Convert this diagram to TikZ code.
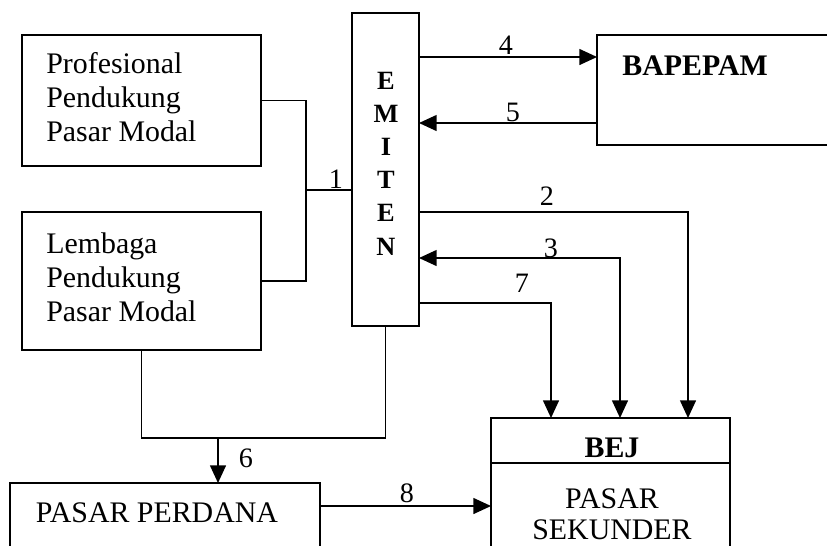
\documentclass[tikz,border=0pt]{standalone}
\usepackage{fontspec}
\setmainfont{Liberation Serif}
\usetikzlibrary{arrows.meta}

\begin{document}
\begin{tikzpicture}[x=0.02cm,y=-0.02cm,
        box/.style={draw=black, line width=0.9pt, inner sep=0pt, outer sep=0pt},
        txt/.style={font=\fontsize{17}{19.3}\selectfont, inner sep=0pt, align=left},
        num/.style={font=\fontsize{16}{18}\selectfont, inner sep=0pt},
        line/.style={line width=0.9pt},
        arr/.style={line width=0.9pt, -{Triangle[length=10pt,width=9pt]}},
        darr/.style={line width=0.9pt, {Triangle[length=10pt,width=9pt]}-{Triangle[length=10pt,width=9pt]}}]

        \path[use as bounding box, fill=white] (0,0) rectangle (827,545);

        % boxes
        \node (prof_box)[box, minimum width=4.78cm, minimum height=2.62cm] at (141.5,100.5) {};
        \node (lemb_box)[box, minimum width=4.78cm, minimum height=2.76cm] at (141.5,281) {};
        \node (emiten_box)[box, minimum width=1.34cm, minimum height=6.26cm] at (385.5,169.5) {};
        \node (bapepam_box)[box, minimum width=5.06cm, minimum height=2.2cm] at (723.5,90) {};
        \node (pp_box)[box, minimum width=6.2cm, minimum height=1.94cm] at (165,531.5) {};
        \node (bej_head)[box, minimum width=4.78cm, minimum height=0.9cm] at (610.5,440.5) {};
        \node (bej_body)[box, minimum width=4.78cm, minimum height=2.34cm] at (610.5,521.5) {};

        % texts
        \node (prof_txt)[txt, anchor=west] at (46,97.5) {Profesional\\Pendukung\\Pasar Modal};
        \node (lemb_txt)[txt, anchor=west] at (46,277.5) {Lembaga\\Pendukung\\Pasar Modal};
        \node (emiten_txt)[inner sep=0pt, align=center, font=\bfseries\fontsize{15}{18.9}\selectfont]
        at (386,163.5) {E\\M\\I\\T\\E\\N};
        \node (bapepam_txt)[txt, anchor=west, font=\bfseries\fontsize{17}{19.3}\selectfont] at (622,66) {BAPEPAM};
        \node (pp_txt)[txt] at (157,513) {PASAR PERDANA};
        \node (bej_txt)[txt, font=\bfseries\fontsize{17}{19.3}\selectfont] at (612,448) {BEJ};
        \node (sekunder_txt)[txt, align=center, font=\fontsize{17}{17.6}\selectfont] at (612,514.5) {PASAR\\SEKUNDER};

        % bends
        \coordinate (join) at (306,190);
        \coordinate (c2) at (688,212);
        \coordinate (c3) at (620,258);
        \coordinate (c7) at (551,303);
        \coordinate (c6) at (218,438);
        \coordinate (c8) at (407,506);

        % connectors
        \draw[line] (prof_box.east) -| (join);
        \draw[line] (lemb_box.east) -| (join);
        \draw[line] (join) -- (join -| emiten_box.west);
        \draw[arr] (emiten_box.east |- 0,57) -- (bapepam_box.west |- 0,57);
        \draw[arr] (bapepam_box.west |- 0,123) -- (emiten_box.east |- 0,123);
        \draw[arr] (emiten_box.east |- c2) -| (c2 |- bej_head.north);
        \draw[darr] (emiten_box.east |- c3) -| (c3 |- bej_head.north);
        \draw[arr] (emiten_box.east |- c7) -| (c7 |- bej_head.north);
        \draw[line] (lemb_box.south) |- (emiten_box.south |- c6) -- (emiten_box.south);
        \draw[arr] (c6) -- (c6 |- pp_box.north);
        \draw[arr] (pp_box.east |- c8) -- (bej_body.west |- c8);

        % numbers
        \node (n1)[num] at (336,179) {1};
        \node (n2)[num] at (547,196) {2};
        \node (n3)[num] at (551,248) {3};
        \node (n4)[num] at (506,45) {4};
        \node (n5)[num] at (513,112) {5};
        \node (n6)[num] at (246,458) {6};
        \node (n7)[num] at (522,283) {7};
        \node (n8)[num] at (407,493) {8};
    \end{tikzpicture}
\end{document}
